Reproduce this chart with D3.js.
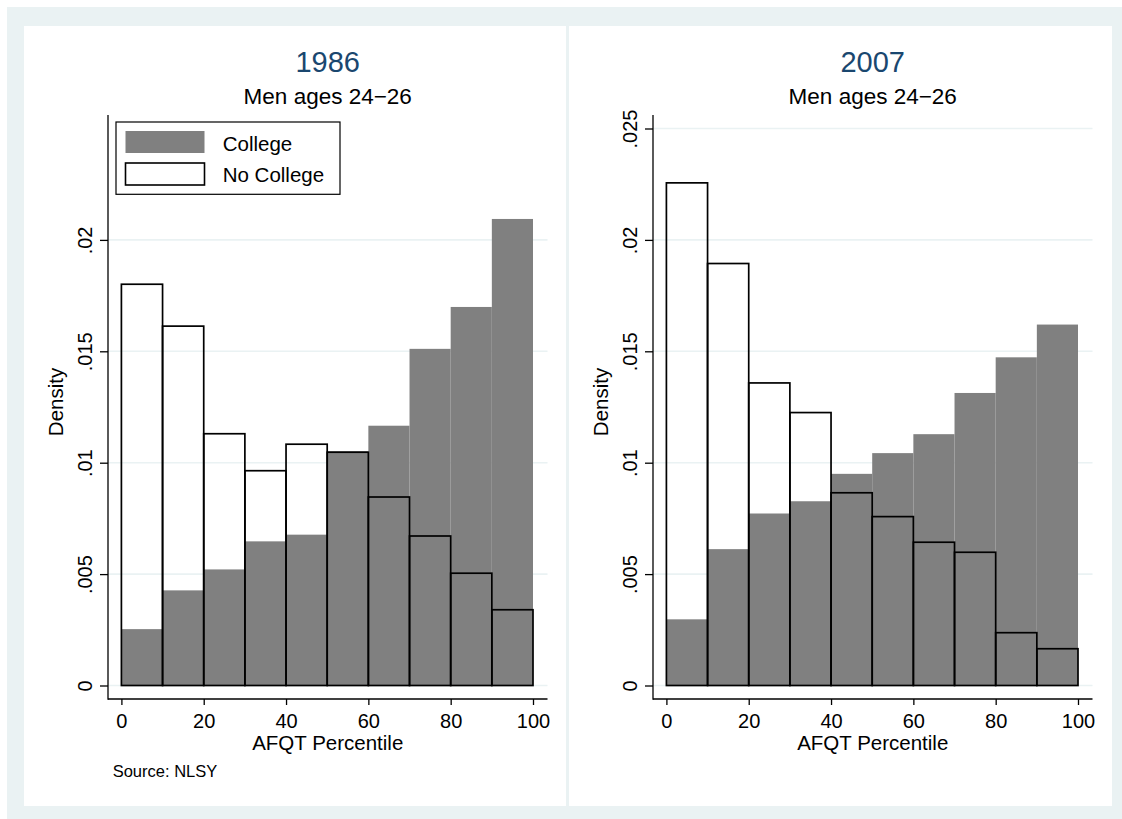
<!DOCTYPE html>
<html>
<head>
<meta charset="utf-8">
<script src="https://cdn.jsdelivr.net/npm/d3@7"></script>
<style>
  body { margin: 0; background: #fff; }
  text { font-family: 'Liberation Sans', Arial, Helvetica, sans-serif; }
</style>
</head>
<body>
<svg id="chart"></svg>
<script>
// histogram bins (left edges, width 10)
const binStarts = [0, 10, 20, 30, 40, 50, 60, 70, 80, 90];
const binWidth = 10;

const college1986 = [0.00253, 0.00427, 0.00521, 0.00647, 0.00677, 0.01052, 0.01166, 0.01511, 0.01699, 0.02094];
const noCollege1986 = [0.01801, 0.01613, 0.0113, 0.00964, 0.01083, 0.01047, 0.00846, 0.00671, 0.00504, 0.0034];

const college2007 = [0.00297, 0.00612, 0.00772, 0.00827, 0.0095, 0.01043, 0.01128, 0.01313, 0.01473, 0.0162];
const noCollege2007 = [0.02256, 0.01894, 0.01358, 0.01225, 0.00865, 0.00758, 0.00643, 0.00598, 0.00237, 0.00165];

const xTicks = [0, 20, 40, 60, 80, 100];
const yTicks1986 = [0, 0.005, 0.01, 0.015, 0.02];
const yTicks2007 = [0, 0.005, 0.01, 0.015, 0.02, 0.025];

const legendLabels = ['College', 'No College'];

const width = 1122;
const height = 819;
const bgColor = '#eaf2f3';
const barGrey = '#808080';
const titleColor = '#1a476f';

const svg = d3.select('#chart').attr('width', width).attr('height', height);

svg.append('rect')
  .attr('x', 7).attr('y', 7)
  .attr('width', width - 7).attr('height', height - 7)
  .attr('fill', bgColor);

const fmtTick = (v) => (v === 0 ? '0' : String(+v.toFixed(3)).replace(/^0/, ''));

const drawPanel = (ox, panelW, title, college, noCollege, yTicks, showLegend, showSource) => {
  const g = svg.append('g');

  g.append('rect')
    .attr('x', ox).attr('y', 26)
    .attr('width', panelW).attr('height', 780)
    .attr('fill', '#fff');

  const axisX = ox + 84;
  const regionRight = ox + 523.5;
  const regionTop = 115;
  const regionBottom = 699;

  const xScale = d3.scaleLinear().domain([0, 100]).range([ox + 97.4, ox + 509]);
  const yScale = d3.scaleLinear().domain([0, 0.025]).range([685.5, 128.5]);

  // grid lines
  g.selectAll('.grid')
    .data(yTicks)
    .enter()
    .append('line')
    .attr('x1', axisX).attr('x2', regionRight)
    .attr('y1', (d) => yScale(d)).attr('y2', (d) => yScale(d))
    .attr('stroke', bgColor)
    .attr('stroke-width', 1.6);

  // college bars (filled, no outline)
  g.selectAll('.college')
    .data(college)
    .enter()
    .append('rect')
    .attr('x', (d, i) => xScale(binStarts[i]))
    .attr('width', (d, i) => xScale(binStarts[i] + binWidth) - xScale(binStarts[i]))
    .attr('y', (d) => yScale(d))
    .attr('height', (d) => yScale(0) - yScale(d))
    .attr('fill', barGrey);

  // no college bars (outline only)
  g.selectAll('.nocollege')
    .data(noCollege)
    .enter()
    .append('rect')
    .attr('x', (d, i) => xScale(binStarts[i]))
    .attr('width', (d, i) => xScale(binStarts[i] + binWidth) - xScale(binStarts[i]))
    .attr('y', (d) => yScale(d))
    .attr('height', (d) => yScale(0) - yScale(d))
    .attr('fill', 'none')
    .attr('stroke', '#000')
    .attr('stroke-width', 1.7);

  // axes
  const yAxis = d3.axisLeft(yScale).tickValues(yTicks).tickSize(8).tickFormat(fmtTick);
  const yg = g.append('g')
    .attr('transform', 'translate(' + axisX + ',0)')
    .call(yAxis);
  yg.select('.domain').remove();
  yg.selectAll('line').attr('stroke-width', 1.3);
  yg.selectAll('text')
    .attr('x', null).attr('dy', null)
    .attr('transform', 'translate(-16,0) rotate(-90)')
    .attr('text-anchor', 'middle')
    .attr('font-size', 20)
    .attr('font-family', null)
    .attr('fill', '#000');

  const xAxis = d3.axisBottom(xScale).tickValues(xTicks).tickSize(6);
  const xg = g.append('g')
    .attr('transform', 'translate(0,' + regionBottom + ')')
    .call(xAxis);
  xg.select('.domain').remove();
  xg.selectAll('line').attr('stroke-width', 1.3);
  xg.selectAll('text')
    .attr('y', 28.7).attr('dy', null)
    .attr('font-size', 20)
    .attr('font-family', null)
    .attr('fill', '#000');

  g.append('line')
    .attr('x1', axisX).attr('x2', axisX)
    .attr('y1', regionTop).attr('y2', regionBottom + 0.65)
    .attr('stroke', '#000').attr('stroke-width', 1.3);
  g.append('line')
    .attr('x1', axisX).attr('x2', regionRight)
    .attr('y1', regionBottom).attr('y2', regionBottom)
    .attr('stroke', '#000').attr('stroke-width', 1.3);

  const cx = (axisX + regionRight) / 2;

  // titles
  g.append('text')
    .attr('x', cx).attr('y', 72.3)
    .attr('text-anchor', 'middle')
    .attr('font-size', 29)
    .attr('fill', titleColor)
    .text(title);
  g.append('text')
    .attr('x', cx).attr('y', 104.3)
    .attr('text-anchor', 'middle')
    .attr('font-size', 22.5)
    .attr('fill', '#000')
    .text('Men ages 24\u221226');

  g.append('text')
    .attr('x', cx).attr('y', 750)
    .attr('text-anchor', 'middle')
    .attr('font-size', 20.5)
    .text('AFQT Percentile');

  g.append('text')
    .attr('transform', 'translate(' + (ox + 39.3) + ',402) rotate(-90)')
    .attr('text-anchor', 'middle')
    .attr('font-size', 20.5)
    .text('Density');

  if (showLegend) {
    const lg = g.append('g');
    lg.append('rect')
      .attr('x', ox + 92).attr('y', 122)
      .attr('width', 224).attr('height', 72.3)
      .attr('fill', '#fff')
      .attr('stroke', '#000').attr('stroke-width', 1.2);
    lg.selectAll('.swatch')
      .data(legendLabels)
      .enter()
      .append('rect')
      .attr('x', ox + 101.5)
      .attr('y', (d, i) => 131 + i * 32)
      .attr('width', 79).attr('height', 22)
      .attr('fill', (d, i) => (i === 0 ? barGrey : '#fff'))
      .attr('stroke', (d, i) => (i === 0 ? 'none' : '#000'))
      .attr('stroke-width', 1.6);
    lg.selectAll('.lab')
      .data(legendLabels)
      .enter()
      .append('text')
      .attr('x', ox + 198.7)
      .attr('y', (d, i) => 150.7 + i * 31.6)
      .attr('font-size', 20.5)
      .text((d) => d);
  }

  if (showSource) {
    g.append('text')
      .attr('x', ox + 88.7).attr('y', 777)
      .attr('font-size', 16.5)
      .text('Source: NLSY');
  }
};

drawPanel(24, 542, '1986', college1986, noCollege1986, yTicks1986, true, true);
drawPanel(569, 543, '2007', college2007, noCollege2007, yTicks2007, false, false);
</script>
</body>
</html>
